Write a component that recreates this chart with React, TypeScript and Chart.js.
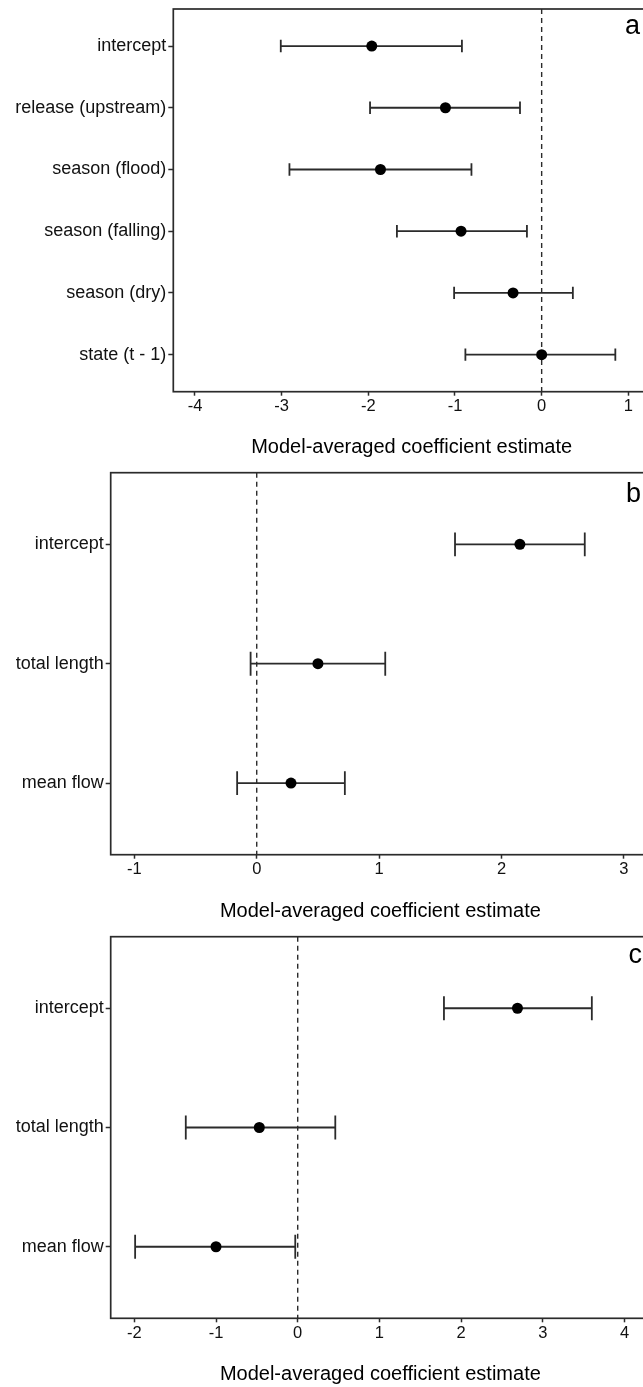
import React, { useEffect, useRef } from "react";
import { Chart, registerables } from "chart.js";

Chart.register(...registerables);

// ---------- data ----------
const termsA = ["intercept", "release (upstream)", "season (flood)", "season (falling)", "season (dry)", "state (t - 1)"];
const estA = [-1.96, -1.11, -1.86, -0.93, -0.33, 0.0];
const lowA = [-3.01, -1.98, -2.91, -1.67, -1.01, -0.88];
const highA = [-0.92, -0.25, -0.81, -0.17, 0.36, 0.85];
const ticksA = [-4, -3, -2, -1, 0, 1];

const termsB = ["intercept", "total length", "mean flow"];
const estB = [2.15, 0.5, 0.28];
const lowB = [1.62, -0.05, -0.16];
const highB = [2.68, 1.05, 0.72];
const ticksB = [-1, 0, 1, 2, 3];

const termsC = ["intercept", "total length", "mean flow"];
const estC = [2.69, -0.47, -1.0];
const lowC = [1.79, -1.37, -1.99];
const highC = [3.6, 0.46, -0.03];
const ticksC = [-2, -1, 0, 1, 2, 3, 4];

const axisTitle = "Model-averaged coefficient estimate";
const panelLetters = ["a", "b", "c"];

// ---------- styling ----------
const FONT = "'Liberation Sans', Arial, Helvetica, sans-serif";
const LINE = "#2b2b2b";
const CANVAS_W = 680;

type PanelCfg = {
  terms: string[];
  est: number[];
  low: number[];
  high: number[];
  ticks: number[];
  xMin: number;
  xMax: number;
  letter: string;
  top: number;
  height: number;
  axisWidth: number;
  padTop: number;
  padBottom: number;
  xAxisHeight: number;
  letterDx: number;
  letterDy: number;
};

const decorPlugin = {
  id: "decor",
  beforeDatasetsDraw(chart: any, _args: any, opts: any) {
    const { ctx, chartArea } = chart;
    const xs = chart.scales.x;
    const ys = chart.scales.y;
    const cfg: PanelCfg = opts.cfg;
    ctx.save();
    // zero reference line
    const x0 = xs.getPixelForValue(0);
    ctx.strokeStyle = LINE;
    ctx.lineWidth = 1.4;
    ctx.setLineDash([5, 4]);
    ctx.beginPath();
    ctx.moveTo(x0, chartArea.top);
    ctx.lineTo(x0, chartArea.bottom);
    ctx.stroke();
    ctx.setLineDash([]);
    // error bars
    ctx.lineWidth = 1.8;
    ctx.strokeStyle = LINE;
    cfg.est.forEach((_, i) => {
      const y = ys.getPixelForValue(i + 1);
      const yA = ys.getPixelForValue(i + 1 - 0.1);
      const yB = ys.getPixelForValue(i + 1 + 0.1);
      const xl = xs.getPixelForValue(cfg.low[i]);
      const xh = xs.getPixelForValue(cfg.high[i]);
      ctx.beginPath();
      ctx.moveTo(xl, y);
      ctx.lineTo(xh, y);
      ctx.moveTo(xl, yA);
      ctx.lineTo(xl, yB);
      ctx.moveTo(xh, yA);
      ctx.lineTo(xh, yB);
      ctx.stroke();
    });
    ctx.restore();
  },
  afterDraw(chart: any, _args: any, opts: any) {
    const { ctx, chartArea } = chart;
    const cfg: PanelCfg = opts.cfg;
    ctx.save();
    ctx.strokeStyle = LINE;
    ctx.lineWidth = 1.7;
    ctx.strokeRect(chartArea.left, chartArea.top, chartArea.right - chartArea.left, chartArea.bottom - chartArea.top);
    ctx.fillStyle = "#000";
    ctx.font = `27px ${FONT}`;
    ctx.textAlign = "left";
    ctx.textBaseline = "alphabetic";
    ctx.fillText(cfg.letter, chartArea.right - cfg.letterDx, chartArea.top + cfg.letterDy);
    ctx.restore();
  },
};

function Panel({ cfg }: { cfg: PanelCfg }) {
  const ref = useRef<HTMLCanvasElement | null>(null);
  useEffect(() => {
    if (!ref.current) return;
    const chart = new Chart(ref.current, {
      type: "scatter",
      data: {
        datasets: [
          {
            data: cfg.est.map((v, i) => ({ x: v, y: i + 1 })),
            pointRadius: 5.5,
            pointHoverRadius: 5.5,
            backgroundColor: "#000",
            borderColor: "#000",
            borderWidth: 0,
          },
        ],
      },
      options: {
        animation: false,
        responsive: false,
        events: [],
        layout: {
          padding: { top: cfg.padTop, left: 0, right: CANVAS_W - 650, bottom: cfg.padBottom },
        },
        plugins: {
          legend: { display: false },
          tooltip: { enabled: false },
          decor: { cfg },
        } as any,
        scales: {
          x: {
            type: "linear",
            position: "bottom",
            min: cfg.xMin,
            max: cfg.xMax,
            afterBuildTicks: (s: any) => {
              s.ticks = cfg.ticks.map((v) => ({ value: v }));
            },
            afterFit: (s: any) => {
              s.height = cfg.xAxisHeight;
              s.paddingLeft = 0;
              s.paddingRight = 0;
            },
            grid: {
              display: true,
              drawOnChartArea: false,
              drawTicks: true,
              tickLength: 4,
              tickColor: LINE,
              tickWidth: 1.5,
              color: LINE,
            },
            border: { display: false },
            ticks: {
              font: { family: FONT, size: 16.5 },
              color: "#111",
              padding: 1.2,
              maxRotation: 0,
              autoSkip: false,
              callback: (v: any) => String(v),
            },
            title: {
              display: true,
              text: axisTitle,
              font: { family: FONT, size: 20 },
              color: "#000",
              padding: 0,
            },
          },
          y: {
            type: "linear",
            min: 0.4,
            max: cfg.terms.length + 0.6,
            reverse: true,
            afterBuildTicks: (s: any) => {
              s.ticks = cfg.terms.map((_, i) => ({ value: i + 1 }));
            },
            afterFit: (s: any) => {
              s.width = cfg.axisWidth;
              s.paddingTop = 0;
              s.paddingBottom = 0;
            },
            grid: {
              display: true,
              drawOnChartArea: false,
              drawTicks: true,
              tickLength: 5,
              tickColor: LINE,
              tickWidth: 1.5,
              color: LINE,
            },
            border: { display: false },
            ticks: {
              font: { family: FONT, size: 18 },
              color: "#111",
              padding: 2,
              autoSkip: false,
              callback: (v: any) => cfg.terms[Math.round(Number(v)) - 1] ?? "",
            },
          },
        },
      } as any,
      plugins: [decorPlugin as any],
    });
    return () => chart.destroy();
  }, [cfg]);
  return (
    <canvas
      ref={ref}
      width={CANVAS_W}
      height={cfg.height}
      style={{ position: "absolute", left: 0, top: cfg.top, width: CANVAS_W, height: cfg.height, display: "block" }}
    />
  );
}

const panels: PanelCfg[] = [
  {
    terms: termsA, est: estA, low: lowA, high: highA, ticks: ticksA,
    xMin: -4.25, xMax: 1.25, letter: panelLetters[0],
    top: 0, height: 470, axisWidth: 173.3, padTop: 9, padBottom: 10.6, xAxisHeight: 67.7,
    letterDx: 25, letterDy: 24.5,
  },
  {
    terms: termsB, est: estB, low: lowB, high: highB, ticks: ticksB,
    xMin: -1.193, xMax: 3.213, letter: panelLetters[1],
    top: 462, height: 470, axisWidth: 110.7, padTop: 10.7, padBottom: 8.6, xAxisHeight: 68.7,
    letterDx: 24, letterDy: 29.3,
  },
  {
    terms: termsC, est: estC, low: lowC, high: highC, ticks: ticksC,
    xMin: -2.289, xMax: 4.312, letter: panelLetters[2],
    top: 926, height: 465, axisWidth: 110.7, padTop: 10.7, padBottom: 4.3, xAxisHeight: 68.4,
    letterDx: 21.4, letterDy: 26.6,
  },
];

export default function App() {
  return (
    <div
      style={{
        position: "fixed",
        left: 0,
        top: 0,
        width: 643,
        height: 1387,
        overflow: "hidden",
        background: "#fff",
      }}
    >
      {panels.map((p, i) => (
        <Panel key={i} cfg={p} />
      ))}
    </div>
  );
}
